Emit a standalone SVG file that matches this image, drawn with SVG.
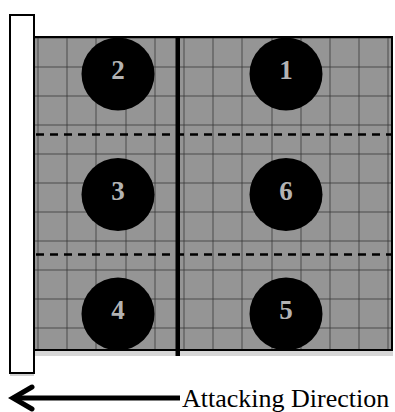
<svg xmlns="http://www.w3.org/2000/svg" width="395" height="412" viewBox="0 0 395 412">
  <style>
    .grid { stroke: #333; stroke-width: 1; stroke-opacity: 0.75; fill: none; }
    .dash { stroke: #000; stroke-width: 2.5; stroke-dasharray: 8 6; fill: none; }
    .player { fill: #000; }
    .num { fill: #b3b3b3; font-size: 27px; font-weight: bold; text-anchor: middle; }
    .label { fill: #000; font-size: 26px; }
  </style>
  <rect width="395" height="412" fill="#fff"/>
  <g id="field">
    <rect x="34" y="350" width="359" height="6" fill="#d6d6d6"/>
    <rect x="34" y="36" width="359" height="314" fill="#959595"/>
    <g class="grid">
      <path d="M38 36V350M67 36V350M96 36V350M126 36V350M155 36V350M184 36V350M213 36V350M242 36V350M272 36V350M301 36V350M330 36V350M359 36V350M388 36V350"/>
      <path d="M34 38H393M34 67H393M34 96H393M34 125H393M34 154H393M34 183H393M34 212H393M34 241H393M34 270H393M34 299H393M34 328H393"/>
    </g>
    <rect x="34" y="37" width="358" height="313" fill="none" stroke="#000" stroke-width="2"/>
    <path class="dash" d="M36 134.5H393M36 254.5H393"/>
    <rect x="175.5" y="36" width="4.5" height="320" fill="#000"/>
  </g>
  <g id="wall">
    <rect x="10" y="374" width="24" height="2" fill="#d0d0d0"/>
    <rect x="10" y="15" width="24" height="358" fill="#fff" stroke="#000" stroke-width="2"/>
  </g>
  <g font-family="'Liberation Serif', 'DejaVu Serif', 'Times New Roman', serif">
    <g id="p2"><circle class="player" cx="118" cy="74" r="36.5"/><text class="num" x="118" y="79">2</text></g>
    <g id="p1"><circle class="player" cx="286" cy="74" r="36.5"/><text class="num" x="286" y="79">1</text></g>
    <g id="p3"><circle class="player" cx="118" cy="194.5" r="36.5"/><text class="num" x="118" y="199.5">3</text></g>
    <g id="p6"><circle class="player" cx="286" cy="194.5" r="36.5"/><text class="num" x="286" y="199.5">6</text></g>
    <g id="p4"><circle class="player" cx="118" cy="314" r="36.5"/><text class="num" x="118" y="319">4</text></g>
    <g id="p5"><circle class="player" cx="286" cy="314" r="36.5"/><text class="num" x="286" y="319">5</text></g>
    <g id="connectors">
      <path d="M14 398H180" stroke="#000" stroke-width="5" fill="none"/>
      <path d="M32 387L13 398L32 409" stroke="#000" stroke-width="5" fill="none" stroke-linecap="round" stroke-linejoin="miter"/>
    </g>
    <text class="label" x="182" y="407">Attacking Direction</text>
  </g>
</svg>
